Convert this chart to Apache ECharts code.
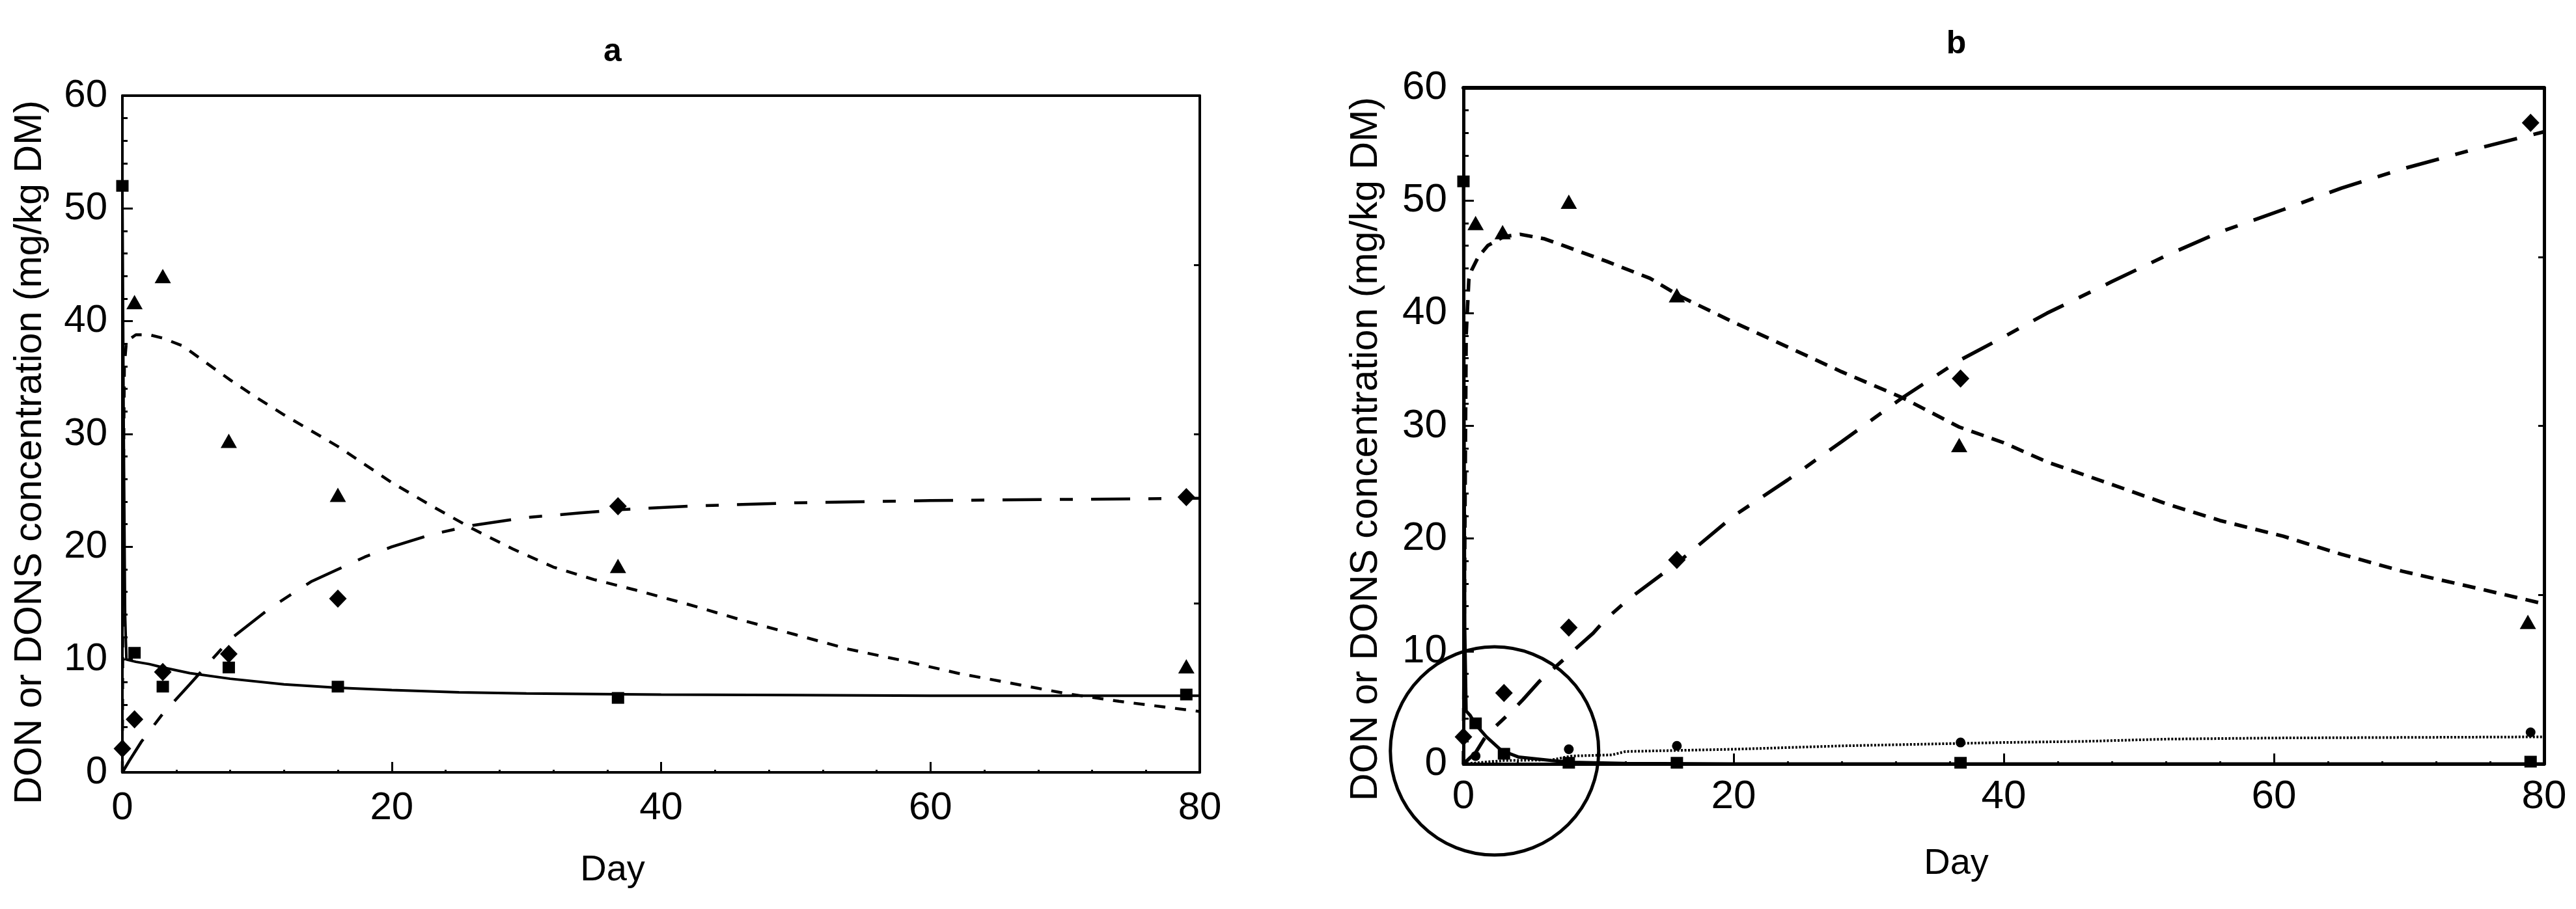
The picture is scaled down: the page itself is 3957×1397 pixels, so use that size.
<!DOCTYPE html>
<html>
<head>
<meta charset="utf-8">
<title>DON / DONS concentration</title>
<script src="https://cdn.jsdelivr.net/npm/echarts@6/dist/echarts.min.js"></script>
<style>
  html, body { margin: 0; padding: 0; background: #fff; }
  #chart { width: 3957px; height: 1397px; }
</style>
</head>
<body>
<div id="chart"></div>
<script>
// ---- panel a : measured points [day, mg/kg DM] ----
const aSquares  = [[0, 52.0], [0.9, 10.6], [3, 7.6], [7.9, 9.3], [16, 7.6], [36.8, 6.6], [79, 6.9]];
const aTriangles = [[0.9, 41.7], [3, 44.0], [7.9, 29.4], [16, 24.6], [36.8, 18.3], [79, 9.4]];
const aDiamonds = [[0, 2.1], [0.9, 4.7], [3, 8.9], [7.9, 10.5], [16, 15.4], [36.8, 23.6], [79, 24.4]];

// ---- panel a : fitted curves ----
const aSquareFit = [[0, 51.7], [0.1, 30], [0.2, 14], [0.3, 10], [1, 9.8], [2, 9.6], [3, 9.3], [5, 8.8],
  [8, 8.3], [12, 7.8], [16, 7.5], [20, 7.3], [25, 7.1], [30, 7.0], [40, 6.9], [50, 6.85], [60, 6.8], [70, 6.8], [80, 6.8]];
const aTriangleFit = [[0, 0], [0.05, 22], [0.15, 36], [0.3, 38.2], [1, 38.8], [2, 38.8], [3, 38.5], [4.5, 37.8],
  [6, 36.5], [8, 34.8], [10, 33.2], [12, 31.7], [14, 30.3], [16, 28.9], [18, 27.3], [20, 25.7], [23, 23.6],
  [26, 21.6], [29, 19.8], [32, 18.2], [35, 17.1], [38, 16.2], [42, 14.9], [46, 13.5], [50, 12.2], [54, 10.9],
  [58, 9.9], [62, 8.8], [66, 7.9], [70, 7.0], [74, 6.3], [78, 5.7], [80, 5.4]];
const aDiamondFit = [[0, 0], [0.5, 1.0], [1.4, 2.7], [3, 5.2], [5, 7.8], [8, 11.8], [11, 14.6], [14, 16.9],
  [16, 18.0], [18, 19.1], [20, 20.0], [23, 21.1], [26, 21.9], [30, 22.6], [34, 23.0], [37, 23.3], [42, 23.6],
  [50, 23.9], [60, 24.1], [70, 24.2], [80, 24.3]];

// ---- panel b : measured points ----
const bSquares  = [[0, 51.7], [0.9, 3.6], [3, 0.9], [7.8, 0.1], [15.8, 0.1], [36.8, 0.1], [79, 0.2]];
const bTriangles = [[0.9, 48.0], [2.9, 47.2], [7.8, 49.9], [15.8, 41.6], [36.7, 28.3], [78.8, 12.6]];
const bDiamonds = [[0, 2.4], [3, 6.3], [7.8, 12.1], [15.8, 18.1], [36.8, 34.2], [79, 56.9]];
const bCircles  = [[0.9, 0.7], [7.8, 1.3], [15.8, 1.6], [36.8, 1.9], [79, 2.8]];

// ---- panel b : fitted curves ----
const bSquareFit = [[0, 51.7], [0.05, 30], [0.1, 12], [0.2, 4.7], [0.5, 4.3], [0.9, 3.5], [1.7, 2.4], [2.8, 1.2],
  [4.1, 0.6], [6.5, 0.3], [8, 0.15], [12, 0.05], [20, 0], [80, 0]];
const bTriangleFit = [[0, 0], [0.1, 20], [0.2, 38], [0.4, 43], [0.6, 43.8], [1.1, 45], [1.8, 46], [3, 46.8],
  [4.2, 47.0], [6, 46.6], [7.4, 46.0], [10.6, 44.6], [13.8, 43.1], [16.2, 41.4], [20, 39.2], [24, 37.0],
  [28, 34.8], [32.5, 32.5], [36.7, 29.9], [40, 28.5], [43.2, 26.8], [48, 24.8], [52, 23.1], [56, 21.6],
  [60.7, 20.2], [65, 18.6], [69.5, 17.1], [75, 15.6], [80, 14.2]];
const bDiamondFit = [[0, 0], [0.9, 1.0], [1.55, 2.25], [2, 2.9], [3.6, 4.7], [4.4, 5.7], [5.6, 7.3], [8.1, 10.0],
  [9.6, 11.6], [10.5, 12.8], [12.2, 14.6], [15.9, 17.9], [20, 22.0], [24, 25.2], [28, 28.6], [32.5, 32.5],
  [36.7, 35.8], [40, 37.9], [43.2, 40.0], [48, 42.8], [52, 45.1], [56, 47.2], [60.7, 49.2], [65, 51.1],
  [69.5, 52.8], [75, 54.6], [80, 56.1]];
const bCircleFit = [[0, 0], [3, 0.3], [6.5, 0.35], [8, 0.7], [11, 0.8], [12, 1.1], [16, 1.2], [20, 1.3],
  [24, 1.45], [28, 1.6], [34, 1.75], [40, 1.9], [46, 2.0], [52, 2.2], [60, 2.3], [70, 2.35], [80, 2.4]];

const yTitle = 'DON or DONS concentration (mg/kg DM)';
const FONT = '"Liberation Sans", Arial, sans-serif';

function bottomX(grid, lw, size, margin) {
  return {
    type: 'value', gridIndex: grid, position: 'bottom', min: 0, max: 80, interval: 20,
    axisLine: { show: true, onZero: false, lineStyle: { color: '#000', width: lw } },
    axisTick: { show: true, inside: true, length: 16, lineStyle: { color: '#000', width: 3 } },
    minorTick: { show: true, splitNumber: 5, length: 4, lineStyle: { color: '#000', width: 3 } },
    axisLabel: { color: '#000', fontSize: size, fontFamily: FONT, margin: margin },
    splitLine: { show: false }
  };
}
function topX(grid, lw) {
  return {
    type: 'value', gridIndex: grid, position: 'top', min: 0, max: 80,
    axisLine: { show: true, onZero: false, lineStyle: { color: '#000', width: lw } },
    axisTick: { show: false }, axisLabel: { show: false }, splitLine: { show: false }
  };
}
function leftY(grid, lw, size, margin) {
  return {
    type: 'value', gridIndex: grid, position: 'left', min: 0, max: 60, interval: 10,
    axisLine: { show: true, onZero: false, lineStyle: { color: '#000', width: lw } },
    axisTick: { show: true, inside: true, length: 16, lineStyle: { color: '#000', width: 3 } },
    minorTick: { show: true, splitNumber: 5, length: 8, lineStyle: { color: '#000', width: 3 } },
    axisLabel: { color: '#000', fontSize: size, fontFamily: FONT, margin: margin },
    splitLine: { show: false }
  };
}
function rightY(grid, lw) {
  return {
    type: 'value', gridIndex: grid, position: 'right', min: 0, max: 60, interval: 15,
    axisLine: { show: true, onZero: false, lineStyle: { color: '#000', width: lw } },
    axisTick: { show: true, inside: true, length: 9, lineStyle: { color: '#000', width: 3 } },
    axisLabel: { show: false }, splitLine: { show: false }
  };
}

function pts(data, symbol, size, ax) {
  return {
    type: 'scatter', xAxisIndex: ax, yAxisIndex: ax, data: data, symbol: symbol, symbolSize: size,
    itemStyle: { color: '#000', opacity: 1 }, clip: false, z: 5, silent: true
  };
}
function fit(data, dash, width, ax) {
  return {
    type: 'line', xAxisIndex: ax, yAxisIndex: ax, data: data, showSymbol: false, smooth: false,
    lineStyle: { color: '#000', width: width, type: dash, opacity: 1 }, z: 3, silent: true
  };
}

const chart = echarts.init(document.getElementById('chart'));
chart.setOption({
  backgroundColor: '#fff',
  animation: false,
  grid: [
    { left: 188, top: 147, width: 1655, height: 1040 },
    { left: 2248, top: 135, width: 1660, height: 1039 }
  ],
  // axis index: 0/1 = panel a, 2/3 = panel b (bottom/top, left/right)
  xAxis: [bottomX(0, 4, 60, 25), topX(0, 4), bottomX(1, 5, 62, 20), topX(1, 6)],
  yAxis: [leftY(0, 4, 60, 23), rightY(0, 4), leftY(1, 5, 62, 25), rightY(1, 5)],
  series: [
    fit(aSquareFit, 'solid', 4, 0),
    fit(aTriangleFit, [17, 15], 4.5, 0),
    fit(aDiamondFit, [60, 28, 20, 28], 4.5, 0),
    pts(aSquares, 'rect', [19, 18], 0),
    pts(aTriangles, 'triangle', [25, 22], 0),
    pts(aDiamonds, 'diamond', [27, 28], 0),

    fit(bSquareFit, 'solid', 5, 2),
    fit(bTriangleFit, [20, 13], 5.5, 2),
    fit(bDiamondFit, [52, 26, 20, 26], 5.5, 2),
    fit(bCircleFit, [3, 2.5], 4, 2),
    pts(bSquares, 'rect', [19, 18], 2),
    pts(bTriangles, 'triangle', [25, 22], 2),
    pts(bDiamonds, 'diamond', [27, 28], 2),
    pts(bCircles, 'circle', 15, 2)
  ]
});

// annotation ring around the origin of panel b, placed in data coordinates
const ringCenter = [2.3, 1.15];
const ringRadius = 160;
const c = chart.convertToPixel({ xAxisIndex: 2, yAxisIndex: 2 }, ringCenter);

function label(text, x, y, size, weight, rot) {
  return {
    type: 'text', x: x, y: y, rotation: rot || 0, silent: true,
    style: { text: text, fill: '#000', font: weight + ' ' + size + 'px ' + FONT, textAlign: 'center', textVerticalAlign: 'middle' }
  };
}

chart.setOption({
  graphic: [
    label('a', 941, 80, 50, 'bold'),
    label('b', 3005, 68, 50, 'bold'),
    label('Day', 941, 1338, 56, 'normal'),
    label('Day', 3005, 1328, 56, 'normal'),
    label(yTitle, 47, 695, 59, 'normal', Math.PI / 2),
    label(yTitle, 2099, 690, 59, 'normal', Math.PI / 2),
    {
      type: 'circle', silent: true, z: 10,
      shape: { cx: c[0], cy: c[1], r: ringRadius },
      style: { fill: 'none', stroke: '#000', lineWidth: 5 }
    }
  ]
});
</script>
</body>
</html>
